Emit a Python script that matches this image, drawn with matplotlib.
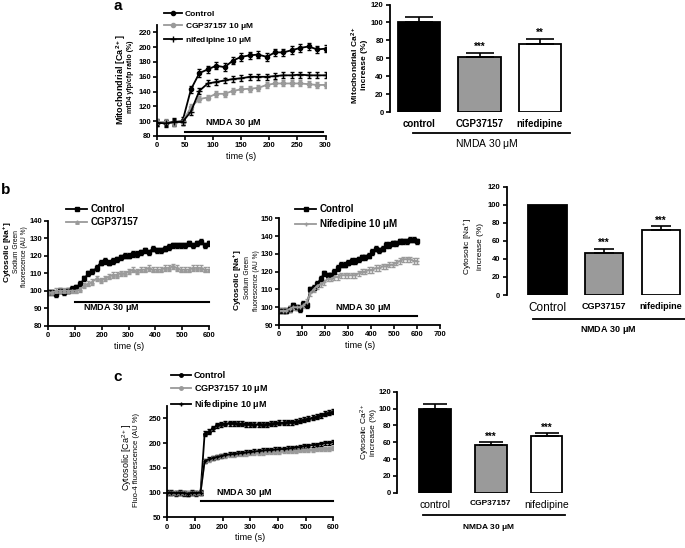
import matplotlib
matplotlib.use("Agg")
import matplotlib.pyplot as plt
from matplotlib.lines import Line2D
import numpy as np

plt.rcParams['font.family'] = ['Liberation Sans', 'DejaVu Sans']
plt.rcParams['font.weight'] = 'bold'
plt.rcParams['mathtext.default'] = 'regular'

W, H = 685, 548
GREY = '#9a9a9a'

# ---- panel a: mitochondrial Ca2+ ----
t_a = np.arange(0, 301, 15)
a_ctrl = [98, 97, 99, 100, 143, 165, 170, 175, 173, 182, 187, 189, 190, 187, 193, 193, 196, 199, 201, 197, 198]
a_cgp = [99, 99, 98, 99, 119, 130, 132, 137, 137, 141, 143, 144, 145, 149, 151, 151, 151, 151, 150, 149, 149]
a_nif = [98, 97, 99, 99, 113, 141, 151, 153, 155, 157, 158, 160, 160, 160, 161, 162, 162, 163, 162, 162, 162]
a_err = [5, 4, 4]

bar_a = [100, 62, 76]
bar_a_err = [6, 4, 6]
bar_a_stars = ['', '***', '**']
bar_a_labels = ['control', 'CGP37157', 'nifedipine']

# ---- panel b: cytosolic Na+ ----
t_b = np.arange(0, 601, 15)
b1_ctrl = [99, 99, 98, 100, 99, 100, 101, 102, 104, 107, 110, 111, 113, 116, 117, 116, 117, 118, 119, 120, 120,
           121, 121, 122, 123, 122, 124, 123, 123, 124, 125, 126, 126, 126, 126, 127, 126, 127, 128, 126, 127]
b1_cgp = [99, 99, 100, 100, 100, 100, 100, 100, 101, 103, 104, 105, 107, 106, 107, 108, 109, 109, 110, 110, 111,
          112, 111, 112, 112, 113, 112, 112, 112, 113, 113, 114, 113, 112, 112, 112, 113, 113, 113, 112, 112]
b2_ctrl = [98, 98, 98, 99, 101, 100, 99, 102, 101, 110, 111, 113, 116, 119, 118, 118, 120, 122, 124, 124, 125,
           126, 126, 127, 128, 128, 129, 131, 133, 132, 133, 135, 135, 136, 136, 137, 137, 137, 138, 138, 137]
b2_nif = [98, 98, 98, 99, 100, 100, 100, 101, 103, 108, 110, 112, 113, 114, 116, 116, 117, 117, 118, 118, 118,
          118, 118, 119, 120, 120, 121, 121, 122, 122, 123, 123, 124, 124, 125, 126, 127, 127, 127, 126, 126]
b_err = 1.5

bar_b = [100, 47, 72]
bar_b_err = [0, 4, 4]
bar_b_stars = ['', '***', '***']
bar_b_labels = ['Control', 'CGP37157', 'nifedipine']

# ---- panel c: cytosolic Ca2+ ----
t_c = np.arange(0, 601, 15)
c_ctrl = [100, 100, 99, 100, 99, 98, 100, 99, 100, 219, 223, 230, 236, 238, 239, 240, 240, 239, 239, 238, 238,
          237, 238, 237, 238, 239, 240, 241, 241, 242, 242, 243, 245, 247, 249, 251, 253, 256, 259, 261, 263]
c_cgp = [100, 100, 100, 100, 100, 100, 100, 100, 100, 163, 166, 169, 171, 173, 174, 175, 176, 177, 177, 178, 179,
         179, 180, 180, 181, 181, 182, 182, 183, 183, 184, 184, 185, 185, 186, 186, 187, 187, 188, 188, 189]
c_nif = [100, 100, 99, 100, 99, 98, 100, 99, 100, 164, 167, 170, 172, 174, 176, 177, 178, 179, 180, 181, 182,
         183, 184, 185, 186, 186, 187, 188, 188, 189, 190, 191, 192, 194, 195, 196, 197, 199, 200, 201, 202]
c_err = [5, 4, 4]

bar_c = [100, 57, 67]
bar_c_err = [5, 3, 3.5]
bar_c_stars = ['', '***', '***']
bar_c_labels = ['control', 'CGP37157', 'nifedipine']

bar_colors = ['black', GREY, 'white']

fig = plt.figure(figsize=(6.85, 5.48), dpi=100)


def px_axes(l, t, r, b):
    return fig.add_axes([l / W, 1 - b / H, (r - l) / W, (b - t) / H])


def ftext(x, y, s, **kw):
    fig.text(x / W, 1 - y / H, s, **kw)


def fline(x0, x1, y, lw=1.3):
    fig.add_artist(Line2D([x0 / W, x1 / W], [1 - y / H, 1 - y / H], color='black', lw=lw))


def style(ax):
    ax.spines['top'].set_visible(False)
    ax.spines['right'].set_visible(False)
    ax.spines['left'].set_linewidth(1.3)
    ax.spines['bottom'].set_linewidth(1.3)
    ax.tick_params(width=1.2, length=3, labelsize=5.5, pad=1.5)


def series(ax, t, y, err, color, marker, ms, label):
    c = ax.errorbar(t, y, yerr=err, color=color, marker=marker, ms=ms, lw=1.3,
                    elinewidth=0.8, capsize=1.5, capthick=0.8, mew=1)
    c[0].set_label(label)
    return c[0]


def legend(ax, handles, x, y, fs=6):
    ax.legend(handles=handles, loc='upper left', bbox_to_anchor=(x / W, 1 - y / H),
              bbox_transform=fig.transFigure, frameon=False, fontsize=fs,
              handlelength=2.2, handletextpad=0.3, borderpad=0, labelspacing=0.35,
              borderaxespad=0)


def bars(ax, vals, errs, stars, labels, width, cap, ylim_top=120):
    pos = np.arange(len(vals))
    ax.bar(pos, vals, width=width, color=bar_colors, edgecolor='black', linewidth=1.3)
    for p, v, e, s in zip(pos, vals, errs, stars):
        if e > 0:
            ax.errorbar(p, v, yerr=[[0], [e]], color='black', capsize=cap, elinewidth=1.2, capthick=1.2)
        if s:
            ax.text(p, v + e + 1, s, ha='center', va='bottom', fontsize=7)
    ax.spines['top'].set_visible(False)
    ax.spines['right'].set_visible(False)
    ax.spines['bottom'].set_visible(False)
    ax.spines['left'].set_linewidth(1.3)
    ax.set_ylim(0, ylim_top)
    ax.set_yticks(np.arange(0, ylim_top + 1, 20))
    ax.tick_params(axis='y', width=1.2, length=3, labelsize=5.5, pad=1.5)
    ax.set_xticks(pos, labels)
    ax.tick_params(axis='x', length=0, pad=5, labelsize=7)


# ================= panel a =================
ax = px_axes(157.3, 25, 325.5, 136)
style(ax)
h1 = series(ax, t_a, a_ctrl, a_err[0], 'black', 'o', 3, 'Control')
h2 = series(ax, t_a, a_cgp, a_err[1], GREY, 'o', 3, r'CGP37157 10 $\mu$M')
h3 = series(ax, t_a, a_nif, a_err[2], 'black', '+', 4, r'nifedipine 10 $\mu$M')
ax.set_xlim(0, 300)
ax.set_ylim(80, 230)
ax.set_xticks(np.arange(0, 301, 50))
ax.set_yticks(np.arange(80, 221, 20))
ax.plot([50, 295], [86, 86], color='black', lw=1.5, clip_on=False)
ax.text(85, 98, r'NMDA 30 $\mu$M', fontsize=6.5, va='center')
ax.set_xlabel('time (s)', fontsize=6.5, labelpad=2)
legend(ax, [h1, h2, h3], 164, 10)
ftext(121.5, 80, r'Mitochondrial [Ca$^{2+}$]', rotation=90, ha='center', va='center', fontsize=6.5)
ftext(131, 77, 'mtD4 yfp/cfp ratio (%)', rotation=90, ha='center', va='center', fontsize=5)
ftext(118, 6, 'a', fontsize=11, ha='center', va='center')

ax = px_axes(390, 4.5, 569, 112.3)
bars(ax, bar_a, bar_a_err, bar_a_stars, bar_a_labels, 0.7, 10)
for lbl in ax.get_xticklabels():
    lbl.set_fontsize(7)
fline(413, 570, 133)
ftext(487, 144, r'NMDA 30 $\mu$M', ha='center', va='center', fontsize=7.5, fontweight='normal')
ftext(355, 65, r'Mitochondrial Ca$^{2+}$', rotation=90, ha='center', va='center', fontsize=6)
ftext(364, 65, 'increase (%)', rotation=90, ha='center', va='center', fontsize=6)

# ================= panel b =================
ax = px_axes(48.3, 220.7, 209, 325.7)
style(ax)
h1 = series(ax, t_b, b1_ctrl, b_err, 'black', 's', 2.5, 'Control')
h2 = series(ax, t_b, b1_cgp, b_err, GREY, '^', 2.5, 'CGP37157')
ax.set_xlim(0, 600)
ax.set_ylim(80, 140)
ax.set_xticks(np.arange(0, 601, 100))
ax.set_yticks(np.arange(80, 141, 10))
ax.plot([100, 600], [93.3, 93.3], color='black', lw=1.5, clip_on=False)
ax.text(129, 90, r'NMDA 30 $\mu$M', fontsize=6.5, va='center')
ax.set_xlabel('time (s)', fontsize=6.5, labelpad=2)
legend(ax, [h1, h2], 66, 204, fs=7)
ftext(8, 252, r'Cytosolic [Na$^{+}$]', rotation=90, ha='center', va='center', fontsize=6)
ftext(16.5, 252, 'Sodium Green', rotation=90, ha='center', va='center', fontsize=4.8, fontweight='normal')
ftext(25, 257, 'fluorescence (AU %)', rotation=90, ha='center', va='center', fontsize=4.8, fontweight='normal')
ftext(6, 190, 'b', fontsize=11, ha='center', va='center')

ax = px_axes(279.3, 218.3, 440, 325)
style(ax)
h1 = series(ax, t_b, b2_ctrl, b_err, 'black', 's', 2.5, 'Control')
h2 = series(ax, t_b, b2_nif, b_err, GREY, '+', 3.5, r'Nifedipine 10 $\mu$M')
ax.set_xlim(0, 700)
ax.set_ylim(90, 150)
ax.set_xticks(np.arange(0, 701, 100))
ax.set_yticks(np.arange(90, 151, 10))
ax.plot([120, 600], [95.2, 95.2], color='black', lw=1.5, clip_on=False)
ax.text(364, 99.5, r'NMDA 30 $\mu$M', fontsize=6.5, va='center', ha='center')
ax.set_xlabel('time (s)', fontsize=6.5, labelpad=2)
legend(ax, [h1, h2], 295, 204, fs=7)
ftext(238, 280, r'Cytosolic [Na$^{+}$]', rotation=90, ha='center', va='center', fontsize=6)
ftext(247.5, 278, 'Sodium Green', rotation=90, ha='center', va='center', fontsize=4.8, fontweight='normal')
ftext(256.5, 281, 'fluorescence (AU %)', rotation=90, ha='center', va='center', fontsize=4.8, fontweight='normal')

ax = px_axes(506.7, 186.7, 685, 295)
bars(ax, bar_b, bar_b_err, bar_b_stars, bar_b_labels, 0.68, 7)
ax.set_xlim(-0.71, 2.42)
lbls = ax.get_xticklabels()
lbls[0].set_fontweight('normal')
lbls[0].set_fontsize(8.5)
lbls[1].set_fontsize(6.5)
lbls[2].set_fontsize(6.5)
fline(533, 685, 319)
ftext(608, 330, r'NMDA 30 $\mu$M', ha='center', va='center', fontsize=6.5)
ftext(468, 247, r'Cytosolic [Na$^{+}$]', rotation=90, ha='center', va='center', fontsize=6, fontweight='normal')
ftext(480, 247, 'increase (%)', rotation=90, ha='center', va='center', fontsize=6, fontweight='normal')

# ================= panel c =================
ax = px_axes(167.3, 405.9, 333.3, 517.3)
style(ax)
h1 = series(ax, t_c, c_ctrl, c_err[0], 'black', 'o', 2.5, 'Control')
h2 = series(ax, t_c, c_cgp, c_err[1], GREY, 'o', 2.5, r'CGP37157 10 $\mu$M')
h3 = series(ax, t_c, c_nif, c_err[2], 'black', '+', 3.5, r'Nifedipine 10 $\mu$M')
ax.set_xlim(0, 600)
ax.set_ylim(50, 275)
ax.set_xticks(np.arange(0, 601, 100))
ax.set_yticks(np.arange(50, 251, 50))
ax.plot([120, 600], [83.5, 83.5], color='black', lw=1.5, clip_on=False)
ax.text(176, 98.5, r'NMDA 30 $\mu$M', fontsize=6.5, va='center')
ax.set_xlabel('time (s)', fontsize=6.5, labelpad=2)
legend(ax, [h1, h2, h3], 171, 371, fs=6.5)
ftext(127, 457, r'Cytosolic [Ca$^{2+}$]', rotation=90, ha='center', va='center', fontsize=6.5, fontweight='normal')
ftext(137, 460, 'Fluo-4 fluorescence (AU %)', rotation=90, ha='center', va='center', fontsize=5.5, fontweight='normal')
ftext(118, 377, 'c', fontsize=11, ha='center', va='center')

ax = px_axes(397.3, 391.7, 570, 492.7)
bars(ax, bar_c, bar_c_err, bar_c_stars, bar_c_labels, 0.57, 8.4)
ax.set_xlim(-0.67, 2.42)
lbls = ax.get_xticklabels()
lbls[0].set_fontweight('normal')
lbls[2].set_fontweight('normal')
lbls[0].set_fontsize(7.5)
lbls[1].set_fontsize(6)
lbls[2].set_fontsize(7.5)
fline(423, 565, 515.3)
ftext(488, 527.3, r'NMDA 30 $\mu$M', ha='center', va='center', fontsize=6)
ftext(365, 432, r'Cytosolic Ca$^{2+}$', rotation=90, ha='center', va='center', fontsize=6, fontweight='normal')
ftext(374, 432, 'increase (%)', rotation=90, ha='center', va='center', fontsize=6, fontweight='normal')

fig.savefig('out.png', dpi=100)
